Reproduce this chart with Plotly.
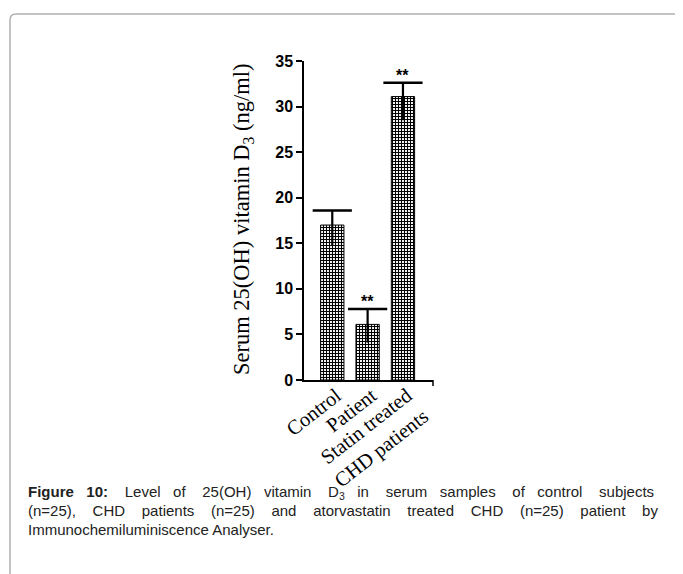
import plotly.graph_objects as go

categories = ["Control", "Patient", "Statin treated<br>CHD patients"]
values = [17.0, 6.1, 31.1]
err_plus = [1.6, 1.7, 1.5]
err_minus = [2.2, 2.0, 2.6]
stars = ["", "**", "**"]
y_ticks = [0, 5, 10, 15, 20, 25, 30, 35]

OFF = 8  # default page margin of the html body
W, H = 683 - OFF, 574 - OFF
L, R, T, B = 304 - OFF, 433 - OFF, 61 - OFF, 380 - OFF  # plot area in figure pixels

def px(x):
    return (x - OFF - L) / (R - L)

def py(y):
    return (B - (y - OFF)) / (B - T)

fig = go.Figure()
fig.add_trace(go.Bar(
    x=categories, y=values, width=0.66,
    marker=dict(color="white", line=dict(color="black", width=1),
                pattern=dict(shape="+", size=3, solidity=0.6,
                             fgcolor="black", bgcolor="white", fillmode="replace")),
    showlegend=False, hoverinfo="skip",
))

# error bars: cap on top only, whisker reaching down into the bar
cap_y = [v + e for v, e in zip(values, err_plus)]
span = [e + m for e, m in zip(err_plus, err_minus)]
fig.add_trace(go.Scatter(
    x=categories, y=cap_y, mode="markers",
    marker=dict(symbol="line-ew", size=28, line=dict(color="black", width=2.5)),
    error_y=dict(type="data", symmetric=False, array=[0] * len(span), arrayminus=span,
                 color="black", thickness=2.2, width=0),
    showlegend=False, hoverinfo="skip",
))

annotations = []
for c, y, s in zip(categories, cap_y, stars):
    if s:
        annotations.append(dict(x=c, y=y, xref="x", yref="y", text="<b>**</b>",
                                showarrow=False, yanchor="bottom", yshift=-3,
                                font=dict(family="Liberation Sans, Arial", size=16, color="black")))

annotations.append(dict(x=px(243), y=py(219), xref="paper", yref="paper",
                        text="Serum 25(OH) vitamin D<sub>3</sub> (ng/ml)", textangle=-90,
                        showarrow=False, xanchor="center", yanchor="middle",
                        font=dict(family="Liberation Serif, Times New Roman, serif", size=22.5, color="black")))

def justify(words, gaps):
    out = words[0]
    for w, g in zip(words[1:], gaps):
        out += " " * g + w
    return out

cap_font = dict(family="Liberation Sans, Arial, sans-serif", size=15, color="#222")
line1 = ["<b>Figure", "10:</b>", "Level", "of", "25(OH)", "vitamin", "D<sub>3</sub>", "in",
         "serum", "samples", "of", "control", "subjects"]
line2 = ["(n=25),", "CHD", "patients", "(n=25)", "and", "atorvastatin", "treated", "CHD",
         "(n=25)", "patient", "by"]
cap_lines = [
    justify(line1, [3, 4, 3, 4, 3, 4, 3, 4, 3, 4, 3, 4]),
    justify(line2, [4] * 10),
    "Immunochemiluminiscence Analyser.",
]
for i, t in enumerate(cap_lines):
    annotations.append(dict(x=px(26), y=py(492 + 18.5 * i), xref="paper", yref="paper",
                            text=t, showarrow=False, xanchor="left", yanchor="middle",
                            font=cap_font))

shapes = [
    dict(type="path", xref="paper", yref="paper",
         path=f"M {px(690)},{py(14)} L {px(16)},{py(14)} Q {px(10)},{py(14)} {px(10)},{py(20)} L {px(10)},{py(580)}",
         line=dict(color="#b0b0b0", width=1.5)),
    # small end tick on the x axis
    dict(type="line", xref="paper", yref="paper", x0=1, x1=1, y0=0, y1=py(386),
         line=dict(color="black", width=1.5)),
]

fig.update_layout(
    width=W, height=H,
    margin=dict(l=L, r=W - R, t=T, b=H - B, pad=0),
    paper_bgcolor="white", plot_bgcolor="white",
    xaxis=dict(range=[-0.8, 2.85], showline=True, linecolor="black", linewidth=1.5,
               ticks="", tickangle=-38, showgrid=False, zeroline=False,
               ticklabelstandoff=-6, ticklabelshift=4,
               tickfont=dict(family="Liberation Serif, Times New Roman, serif", size=20.5, color="black")),
    yaxis=dict(range=[0, 35], tickvals=y_ticks, showline=True, linecolor="black", linewidth=1.5,
               ticks="outside", ticklen=6, tickwidth=1.5, tickcolor="black",
               showgrid=False, zeroline=False,
               tickfont=dict(family="Liberation Sans, Arial", size=16, color="black", weight="bold")),
    annotations=annotations,
    shapes=shapes,
)

fig.write_html("out.html")
